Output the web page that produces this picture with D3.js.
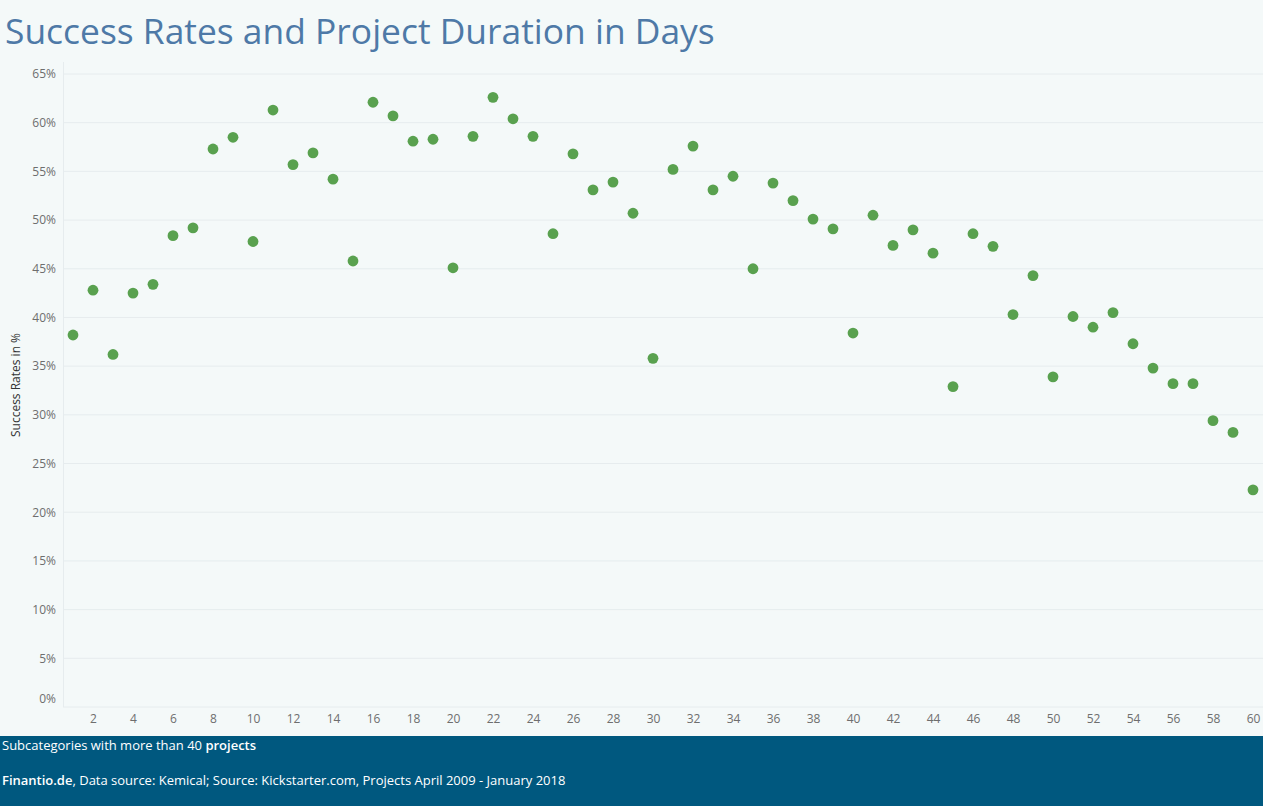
<!DOCTYPE html>
<html><head><meta charset="utf-8">
<script src="https://cdn.jsdelivr.net/npm/d3@7"></script>
<style>
html,body{margin:0;padding:0;background:#f4f9f9;}
svg{display:block;}
</style></head>
<body>
<svg id="chart" width="1263" height="806"></svg>
<script>
const days = d3.range(1, 61);
const successRates = [38.2,42.8,36.2,42.5,43.4,48.4,49.2,57.3,58.5,47.8,
  61.3,55.7,56.9,54.2,45.8,62.1,60.7,58.1,58.3,45.1,
  58.6,62.6,60.4,58.6,48.6,56.8,53.1,53.9,50.7,35.8,
  55.2,57.6,53.1,54.5,45.0,53.8,52.0,50.1,49.1,38.4,
  50.5,47.4,49.0,46.6,32.9,48.6,47.3,40.3,44.3,33.9,
  40.1,39.0,40.5,37.3,34.8,33.2,33.2,29.4,28.2,22.3];
const yTicks = [0,5,10,15,20,25,30,35,40,45,50,55,60,65];
const xTicks = d3.range(2, 61, 2);
const titleText = "Success Rates and Project Duration in Days";
const yAxisTitle = "Success Rates  in %";

const svg = d3.select("#chart");
const font = "'Open Sans', 'Noto Sans', sans-serif";

svg.append("rect").attr("width",1263).attr("height",806).attr("fill","#f4f9f9");

svg.append("text").attr("x",5).attr("y",44)
  .attr("font-family",font).attr("font-size",35.4).attr("fill","#4e79a7")
  .text(titleText);

const x = d3.scaleLinear().domain([0.5, 60.5]).range([63, 1263]);
const y = d3.scaleLinear().domain([0, 65]).range([707, 74]);

// gridlines
svg.append("g").selectAll("line").data(yTicks).join("line")
  .attr("x1",63).attr("x2",1263)
  .attr("y1",d=>y(d)).attr("y2",d=>y(d))
  .attr("stroke","#e6ecee").attr("stroke-width",1);
svg.append("line").attr("x1",63.5).attr("x2",63.5).attr("y1",62).attr("y2",707)
  .attr("stroke","#e6ecee");

// y axis labels
const yAxis = d3.axisLeft(y).tickValues(yTicks).tickFormat(d=>d+"%").tickSize(0).tickPadding(0);
const gy = svg.append("g").attr("transform","translate(56,0)").call(yAxis);
gy.select(".domain").remove();
gy.selectAll("text").attr("font-family",font).attr("font-size",12).attr("fill","#6e6e6e")
  .attr("dy", d => d===0 ? "-0.35em" : "0.32em");

// x axis labels
const xAxis = d3.axisBottom(x).tickValues(xTicks).tickFormat(d3.format("d")).tickSize(0).tickPadding(0);
const gx = svg.append("g").attr("transform","translate(0,714)").call(xAxis);
gx.select(".domain").remove();
gx.selectAll("text").attr("font-family",font).attr("font-size",12).attr("fill","#6e6e6e");

// y axis title
svg.append("text").attr("transform","translate(20,385) rotate(-90)")
  .attr("text-anchor","middle").attr("font-family",font).attr("font-size",12).attr("fill","#333")
  .text(yAxisTitle);

// dots
svg.append("g").selectAll("circle").data(days).join("circle")
  .attr("cx",(d)=>x(d)).attr("cy",(d,i)=>y(successRates[i])).attr("r",5.4)
  .attr("fill","#59a14f");

// footer
svg.append("rect").attr("x",0).attr("y",736).attr("width",1263).attr("height",70).attr("fill","#00587f");
const f1 = svg.append("text").attr("x",2).attr("y",750).attr("font-family",font).attr("font-size",13).attr("fill","#fff");
f1.append("tspan").text("Subcategories with more than 40 ");
f1.append("tspan").attr("font-weight","600").text("projects");
const f2 = svg.append("text").attr("x",2).attr("y",785).attr("font-family",font).attr("font-size",13).attr("fill","#fff");
f2.append("tspan").attr("font-weight","600").text("Finantio.de");
f2.append("tspan").text(", Data source: Kemical; Source: Kickstarter.com, Projects April 2009 - January 2018");
</script>
</body></html>
